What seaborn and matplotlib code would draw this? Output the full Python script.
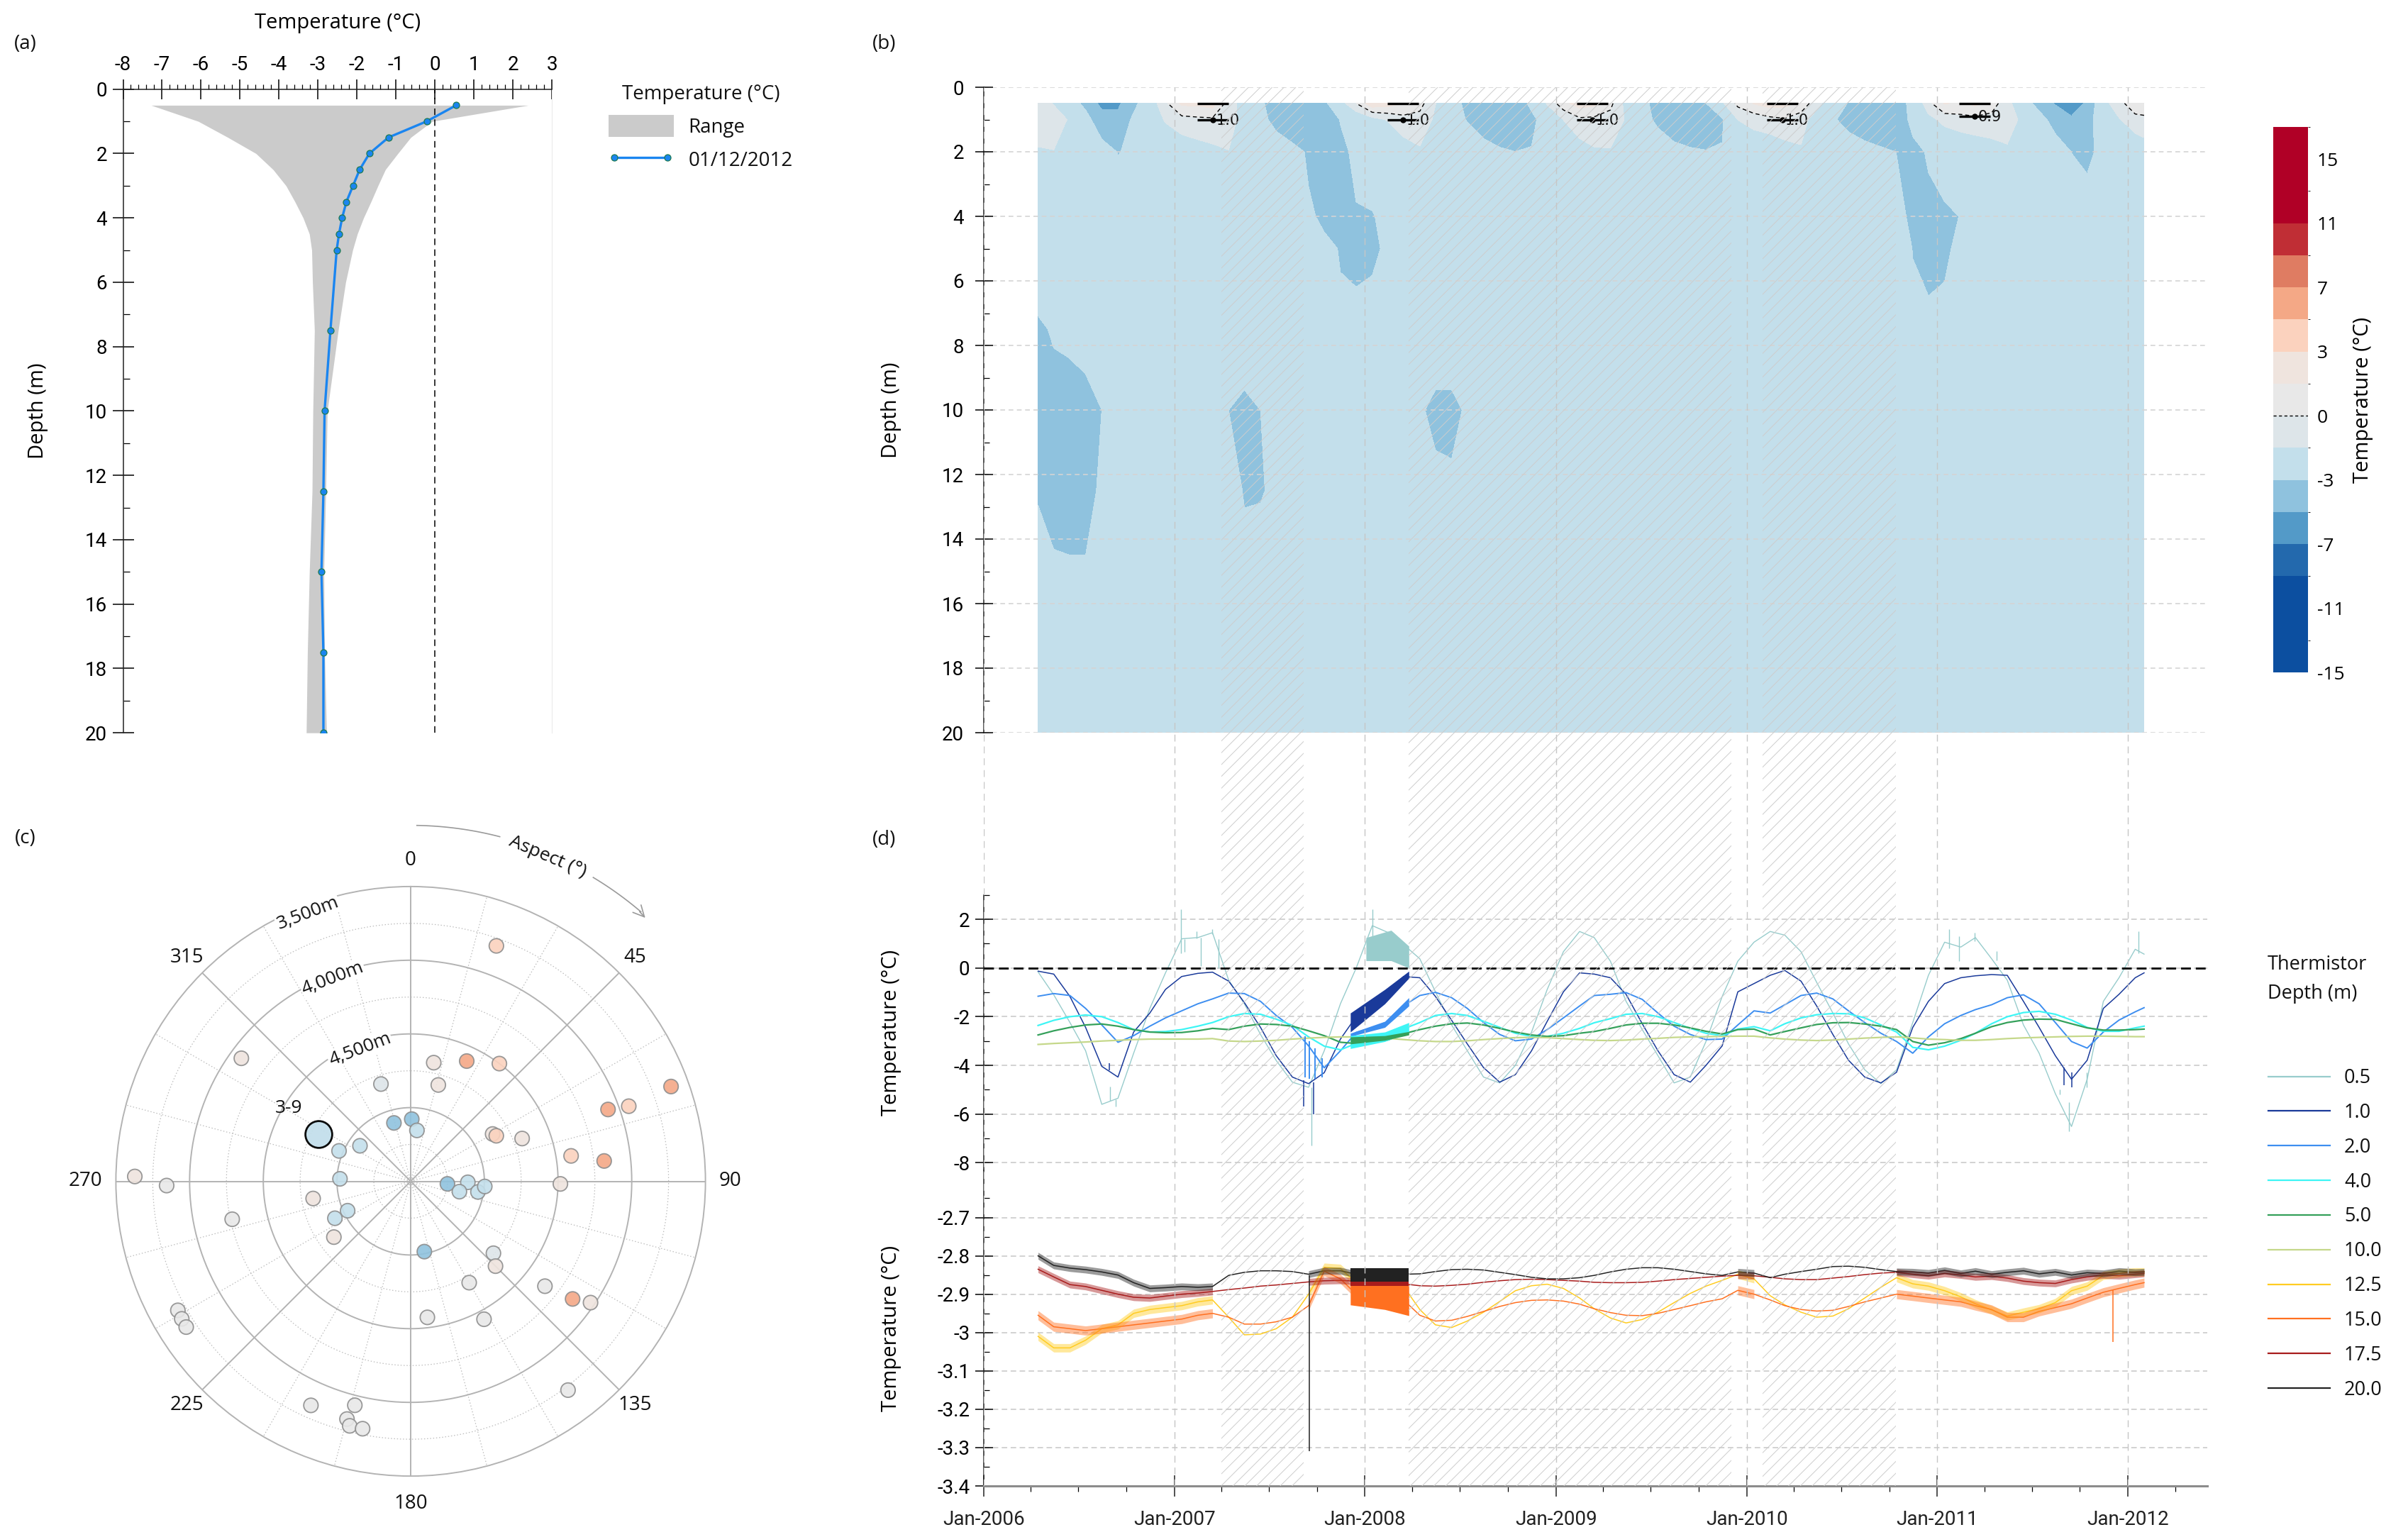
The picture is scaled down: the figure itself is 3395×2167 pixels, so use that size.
import numpy as np
import pandas as pd
import matplotlib
matplotlib.use("Agg")
import matplotlib.pyplot as plt
import matplotlib.dates as mdates
from matplotlib import font_manager
from matplotlib.colors import ListedColormap, BoundaryNorm
from matplotlib.lines import Line2D
from matplotlib.patches import Patch
from matplotlib.ticker import MultipleLocator, FixedLocator, FuncFormatter
import seaborn as sns

# ---------------------------------------------------------------- data
# (a) borehole profile on 01/12/2012 and the observed range at each depth
profile_depth = [0.5, 1.0, 1.5, 2.0, 2.5, 3.0, 3.5, 4.0, 4.5, 5.0, 7.5, 10.0, 12.5, 15.0, 17.5, 20.0]
profile_temp = [0.55, -0.21, -1.19, -1.68, -1.93, -2.10, -2.27, -2.38, -2.46, -2.52, -2.68, -2.83, -2.86, -2.91, -2.86, -2.86]
range_depth = [0.5, 1.0, 1.5, 2.0, 2.5, 3.0, 3.5, 4.0, 4.5, 5.0, 6.0, 7.5, 10.0, 12.5, 15.0, 17.5, 20.0]
range_min = [-7.28, -6.07, -5.31, -4.59, -4.15, -3.82, -3.59, -3.38, -3.22, -3.16, -3.14, -3.09, -3.13, -3.15, -3.22, -3.27, -3.30]
range_max = [2.40, -0.07, -0.62, -0.95, -1.27, -1.46, -1.64, -1.83, -1.99, -2.11, -2.29, -2.48, -2.76, -2.80, -2.85, -2.83, -2.78]

# (c) rock-glacier sites: aspect (deg), elevation (m), mean temperature class (degC)
site_aspect = [20, 306, 11, 25, 37, 16, 343, 70, 70, 71, 344, 1, 7, 60, 62, 69, 81, 84,
               293, 305, 272, 271, 269, 260, 258, 245, 244, 234, 94, 91, 102, 99, 94, 91,
               169, 131, 135, 150, 128, 126, 124, 173, 152, 241, 239, 237, 143, 204, 194, 195, 194, 191]
site_elev = [3800, 4080, 4680, 4600, 4500, 4820, 4810, 3620, 4075, 3935, 5088, 5078, 5152, 4858, 4842, 4690, 4398, 4180,
             4972, 5080, 5020, 3628, 3844, 4828, 4262, 5028, 4928, 4856, 5250, 5112, 5162, 5038, 4996, 4484,
             5014, 4756, 4686, 4706, 4344, 4142, 4028, 4570, 4440, 3694, 3688, 3684, 3726, 3836, 3934, 3830, 3790, 3790]
site_temp = [4, 2, 2, 6, 4, 2, -0.5, 6, 6, 4, -4, -4, -2, 2, 4, 2, 4, 6,
             -2, -2, -2, 2, 0.5, 2, 0.5, -2, -2, 2, -4, -2, -2, -2, -2, 2,
             -4, -0.5, 2, 0.5, 0.5, 6, 2, 0.5, 0.5, 0.5, 0.5, 0.5, 0.5, 0.5, 0.5, 0.5, 0.5, 0.5]
borehole_site = {"aspect": 297, "elev": 4798, "temp": -2, "name": "3-9"}

# (b)/(d) thermistor string: monthly readings (mid-month, Apr 2006 - Jan 2012, plus 1 Feb 2012)
plotted_depths = [0.5, 1.0, 2.0, 4.0, 5.0, 10.0, 12.5, 15.0, 17.5, 20.0]
temp_05 = [-0.16, -1.10, -2.24, -3.40, -5.60, -5.35, -3.50, -1.66, -0.20, 1.20, 1.25, 1.45,
           -0.50, -1.47, -2.73, -3.80, -4.69, -4.90, -3.40, -1.47, -0.01, 1.74, 1.45, 0.96,
           0.38, -0.98, -2.34, -3.40, -4.48, -4.72, -4.00, -2.63, -0.88, 0.67, 1.50, 1.25,
           0.28, -1.37, -2.53, -3.60, -4.72, -4.48, -3.02, -1.17, 0.28, 1.06, 1.50, 1.35,
           0.67, -0.59, -1.85, -3.12, -4.18, -4.75, -4.18, -2.24, -0.30, 1.06, 0.86, 1.25,
           0.38, -0.50, -2.34, -3.50, -5.16, -6.51, -4.57, -1.37, -0.40, 0.77, 0.57]
temp_10 = [-0.13, -0.25, -1.17, -2.44, -4.04, -4.48, -2.63, -1.85, -0.88, -0.35, -0.22, -0.17,
           -0.54, -1.42, -2.44, -3.60, -4.48, -4.75, -4.30, -2.92, -2.00, -1.40, -0.90, -0.35,
           -0.40, -1.17, -2.15, -3.12, -4.09, -4.69, -4.38, -3.40, -2.19, -0.98, -0.20, -0.25,
           -0.40, -1.08, -2.29, -3.40, -4.38, -4.69, -4.00, -3.20, -0.98, -0.64, -0.30, -0.10,
           -0.54, -1.56, -2.73, -3.79, -4.48, -4.72, -4.28, -2.44, -1.37, -0.64, -0.40, -0.32,
           -0.27, -0.30, -1.37, -2.44, -3.60, -4.57, -3.79, -1.66, -1.08, -0.40, -0.20]
temp_20 = [-1.16, -1.05, -1.13, -1.66, -2.34, -3.05, -2.78, -2.39, -2.05, -1.76, -1.47, -1.27,
           -1.03, -1.05, -1.37, -1.95, -2.44, -3.20, -4.10, -3.40, -2.65, -2.45, -2.20, -1.55,
           -1.13, -1.00, -1.22, -1.66, -2.24, -2.73, -2.99, -2.92, -2.53, -2.05, -1.56, -1.13,
           -1.08, -1.01, -1.29, -1.85, -2.39, -2.73, -2.94, -2.92, -2.34, -1.76, -1.85, -1.51,
           -1.13, -1.03, -1.27, -1.76, -2.24, -2.68, -3.02, -3.50, -2.83, -2.29, -1.95, -1.71,
           -1.51, -1.22, -1.10, -1.47, -2.24, -3.02, -3.29, -2.63, -2.14, -1.80, -1.63]
temp_40 = [-2.36, -2.15, -2.00, -1.93, -2.00, -2.24, -2.53, -2.63, -2.61, -2.53, -2.39, -2.24,
           -2.00, -1.87, -1.90, -2.10, -2.36, -2.83, -3.21, -3.36, -3.10, -3.05, -2.75, -2.50,
           -2.24, -1.95, -1.87, -1.95, -2.19, -2.44, -2.68, -2.81, -2.81, -2.68, -2.48, -2.25,
           -2.08, -1.90, -1.87, -2.00, -2.24, -2.48, -2.68, -2.78, -2.51, -2.41, -2.58, -2.29,
           -2.05, -1.92, -1.87, -1.88, -2.05, -2.34, -2.63, -3.26, -3.36, -3.21, -2.97, -2.68,
           -2.29, -2.00, -1.83, -1.78, -1.90, -2.14, -2.44, -2.60, -2.60, -2.46, -2.39]
temp_50 = [-2.75, -2.58, -2.44, -2.34, -2.30, -2.39, -2.53, -2.63, -2.66, -2.65, -2.58, -2.48,
           -2.53, -2.39, -2.30, -2.32, -2.39, -2.58, -2.78, -3.05, -3.10, -3.05, -2.95, -2.70,
           -2.53, -2.39, -2.29, -2.26, -2.34, -2.48, -2.63, -2.75, -2.81, -2.78, -2.68, -2.61,
           -2.48, -2.34, -2.27, -2.27, -2.34, -2.46, -2.60, -2.71, -2.53, -2.51, -2.75, -2.61,
           -2.46, -2.32, -2.25, -2.24, -2.30, -2.39, -2.53, -3.02, -3.17, -3.07, -2.90, -2.68,
           -2.41, -2.24, -2.14, -2.10, -2.11, -2.29, -2.46, -2.55, -2.55, -2.53, -2.51]
# 7.5 m sensor: used in the depth-time section only
temp_75 = [-3.05, -2.97, -2.96, -2.95, -2.94, -2.93, -2.92, -2.91, -2.90, -2.90, -2.90, -2.90,
           -2.92, -2.94, -2.94, -2.93, -2.91, -2.89, -2.88, -2.88, -2.89, -2.90, -2.91, -2.92,
           -2.93, -2.94, -2.94, -2.93, -2.91, -2.89, -2.87, -2.86, -2.86, -2.87, -2.89, -2.91,
           -2.92, -2.92, -2.91, -2.89, -2.87, -2.85, -2.84, -2.84, -2.85, -2.86, -2.88, -2.90,
           -2.92, -2.93, -2.92, -2.90, -2.88, -2.86, -2.85, -2.86, -2.88, -2.90, -2.91, -2.91,
           -2.90, -2.88, -2.86, -2.84, -2.83, -2.83, -2.84, -2.85, -2.86, -2.86, -2.86]
temp_100 = [-3.14, -3.10, -3.07, -3.04, -3.00, -2.97, -2.94, -2.92, -2.92, -2.92, -2.92, -2.90,
            -3.00, -3.02, -3.00, -2.97, -2.92, -2.88, -2.85, -2.83, -2.83, -2.85, -2.89, -2.94,
            -2.99, -3.02, -3.02, -2.99, -2.94, -2.90, -2.86, -2.85, -2.86, -2.90, -2.94, -2.97,
            -2.98, -2.96, -2.92, -2.89, -2.85, -2.83, -2.82, -2.81, -2.80, -2.80, -2.87, -2.92,
            -2.96, -2.98, -2.96, -2.92, -2.88, -2.85, -2.83, -2.87, -2.92, -2.94, -2.97, -2.97,
            -2.94, -2.90, -2.87, -2.85, -2.83, -2.81, -2.80, -2.80, -2.81, -2.82, -2.82]
temp_125 = [-3.010, -3.040, -3.040, -3.020, -2.990, -2.980, -2.950, -2.940, -2.935, -2.930, -2.920, -2.915,
            -2.960, -3.006, -3.004, -2.990, -2.960, -2.900, -2.830, -2.833, -2.870, -2.870, -2.875, -2.880,
            -2.940, -2.980, -2.987, -2.970, -2.947, -2.919, -2.891, -2.878, -2.874, -2.885, -2.910, -2.938,
            -2.962, -2.975, -2.966, -2.947, -2.922, -2.898, -2.879, -2.864, -2.848, -2.860, -2.904, -2.928,
            -2.947, -2.960, -2.957, -2.938, -2.910, -2.882, -2.857, -2.873, -2.879, -2.891, -2.907, -2.925,
            -2.941, -2.957, -2.947, -2.938, -2.922, -2.891, -2.879, -2.851, -2.845, -2.842, -2.842]
temp_150 = [-2.955, -2.985, -2.990, -2.995, -2.990, -2.985, -2.980, -2.975, -2.970, -2.965, -2.955, -2.950,
            -2.960, -2.978, -2.978, -2.972, -2.960, -2.930, -2.840, -2.860, -2.900, -2.905, -2.910, -2.915,
            -2.955, -2.970, -2.968, -2.958, -2.945, -2.932, -2.922, -2.916, -2.915, -2.918, -2.926, -2.938,
            -2.948, -2.955, -2.956, -2.950, -2.940, -2.930, -2.920, -2.912, -2.890, -2.900, -2.915, -2.930,
            -2.940, -2.944, -2.942, -2.932, -2.920, -2.910, -2.900, -2.905, -2.910, -2.915, -2.920, -2.930,
            -2.940, -2.960, -2.960, -2.945, -2.935, -2.925, -2.910, -2.895, -2.885, -2.875, -2.870]
temp_175 = [-2.835, -2.855, -2.875, -2.880, -2.890, -2.900, -2.908, -2.910, -2.905, -2.900, -2.897, -2.893,
            -2.888, -2.884, -2.879, -2.876, -2.872, -2.868, -2.865, -2.864, -2.866, -2.868, -2.870, -2.873,
            -2.878, -2.879, -2.877, -2.874, -2.869, -2.865, -2.862, -2.861, -2.862, -2.864, -2.866, -2.869,
            -2.870, -2.870, -2.869, -2.866, -2.862, -2.859, -2.856, -2.853, -2.851, -2.852, -2.856, -2.860,
            -2.862, -2.862, -2.858, -2.854, -2.849, -2.845, -2.843, -2.848, -2.852, -2.846, -2.850, -2.855,
            -2.853, -2.858, -2.866, -2.870, -2.872, -2.862, -2.855, -2.850, -2.852, -2.848, -2.846]
temp_200 = [-2.800, -2.825, -2.832, -2.836, -2.842, -2.850, -2.870, -2.885, -2.883, -2.880, -2.882, -2.880,
            -2.851, -2.843, -2.839, -2.839, -2.841, -2.848, -2.839, -2.839, -2.848, -2.848, -2.848, -2.848,
            -2.847, -2.841, -2.836, -2.835, -2.837, -2.843, -2.849, -2.856, -2.860, -2.860, -2.857, -2.851,
            -2.842, -2.835, -2.831, -2.831, -2.835, -2.841, -2.847, -2.851, -2.842, -2.845, -2.857, -2.848,
            -2.841, -2.835, -2.828, -2.827, -2.830, -2.836, -2.841, -2.842, -2.845, -2.838, -2.846, -2.840,
            -2.848, -2.843, -2.839, -2.847, -2.842, -2.850, -2.844, -2.846, -2.840, -2.843, -2.842]

# short single-reading excursions: depth, date, level before, extreme value
spike_depth = [20.0, 15.0,
               0.5, 0.5, 0.5, 0.5, 0.5, 0.5, 0.5, 0.5, 0.5, 0.5, 0.5, 0.5, 0.5, 0.5, 0.5, 0.5, 0.5, 0.5,
               1.0, 1.0, 1.0, 1.0, 1.0,
               2.0, 2.0, 2.0, 2.0]
spike_date = ["2007-09-17", "2011-12-03",
              "2007-09-20", "2007-01-14", "2008-01-16", "2011-09-10", "2011-01-24", "2012-01-21",
              "2007-01-21", "2007-02-13", "2007-02-20", "2007-03-14", "2007-03-27", "2006-08-31",
              "2006-09-11", "2011-02-12", "2011-03-14", "2011-04-24", "2011-08-23", "2011-10-14",
              "2007-09-05", "2007-09-25", "2011-09-15", "2011-09-01", "2006-08-30",
              "2007-09-08", "2007-09-17", "2007-09-27", "2007-10-11"]
spike_from = [-2.850, -2.890,
              -4.90, 0.60, 0.50, -5.50, 0.80, 0.60,
              1.20, 1.22, 1.25, 1.40, 1.20, -5.45,
              -5.40, 1.30, 1.10, 0.70, -5.00, -4.90,
              -4.60, -4.70, -4.30, -4.10, -4.20,
              -2.80, -3.00, -3.30, -3.70]
spike_to = [-3.310, -3.024,
            -7.30, 2.40, 2.40, -6.70, 1.60, 1.50,
            0.67, 1.50, 0.09, 1.60, 0.00, -4.86,
            -5.70, 0.28, 1.45, 0.30, -5.20, -4.30,
            -5.70, -6.00, -4.90, -4.80, -3.90,
            -4.50, -4.55, -4.55, -4.50]

# rapid daily oscillation in the Dec 2007 - Mar 2008 record (envelope low / high)
band_dates = {0.5: ["2008-01-03", "2008-02-20", "2008-03-25"]}
band_default_dates = ["2007-12-04", "2008-02-08", "2008-03-25"]
band_lo = {0.5: [0.30, 0.30, 0.00], 1.0: [-2.63, -1.47, -0.42], 2.0: [-2.81, -2.44, -1.56],
           4.0: [-3.31, -3.02, -2.63], 5.0: [-3.12, -2.97, -2.75], 15.0: [-2.928, -2.940, -2.956],
           17.5: [-2.879, -2.879, -2.879], 20.0: [-2.867, -2.867, -2.867]}
band_hi = {0.5: [1.25, 1.55, 0.90], 1.0: [-1.85, -0.88, -0.13], 2.0: [-2.68, -2.19, -1.22],
           4.0: [-2.78, -2.63, -2.24], 5.0: [-2.83, -2.78, -2.61], 15.0: [-2.873, -2.873, -2.873],
           17.5: [-2.857, -2.857, -2.857], 20.0: [-2.833, -2.833, -2.833]}

# logger records (between these periods the values come from a model) and the
# half-width of the reading-to-reading scatter of the deep sensors
record_start = ["2006-04-15", "2007-09-06", "2009-12-03", "2010-10-14"]
record_end = ["2007-04-01", "2008-03-25", "2010-01-31", "2012-02-01"]
scatter_halfwidth = {12.5: 0.011, 15.0: 0.012, 17.5: 0.009, 20.0: 0.009}
gap_start = ["2007-04-01", "2008-03-25", "2010-01-31"]
gap_end = ["2007-09-06", "2009-12-03", "2010-10-14"]

# maximum thaw depth each summer (m)
thaw_dates = ["2007-03-16", "2008-03-14", "2009-03-12", "2010-03-10", "2011-03-14"]
thaw_depth = [1.0, 1.0, 1.0, 1.0, 0.9]

# temperature classes shared by (b) and (c)
temp_bounds = [-15, -13, -11, -9, -7, -5, -3, -1, 0, 1, 3, 5, 7, 9, 11, 13, 15, 17]
temp_colors = ["#0c4fa0", "#0c4fa0", "#0c4fa0", "#2369ad", "#539ac8", "#8fc2de", "#c3dfeb",
               "#dde5e9", "#e8e8e8", "#efe4de", "#fbd2be", "#f4a886", "#df7c62", "#c02e35",
               "#b00026", "#b00026", "#b00026"]
cbar_ticks = [-15, -11, -7, -3, 0, 3, 7, 11, 15]

series_colors = {0.5: "#98cccc", 1.0: "#1a3a9a", 2.0: "#3d8ef0", 4.0: "#3ef5f5", 5.0: "#34a05a",
                 10.0: "#c5d88a", 12.5: "#ffcc22", 15.0: "#ff7020", 17.5: "#a81c1c", 20.0: "#222222"}
series_widths = {0.5: 1.0, 1.0: 1.1, 2.0: 1.4, 4.0: 1.6, 5.0: 1.6, 10.0: 1.6,
                 12.5: 1.1, 15.0: 1.1, 17.5: 1.1, 20.0: 1.1}

# ---------------------------------------------------------------- style
def pick(names, default="DejaVu Sans"):
    avail = {f.name for f in font_manager.fontManager.ttflist}
    for n in names:
        if n in avail:
            return n
    return default

WIDE = pick(["Open Sans", "Noto Sans", "Lato"])
TICK = pick(["Roboto", "Lato", "Noto Sans"], WIDE)
plt.rcParams["font.family"] = [WIDE, "DejaVu Sans"]
plt.rcParams["axes.unicode_minus"] = False
plt.rcParams["hatch.linewidth"] = 0.7
plt.rcParams["text.color"] = "#111111"
TICK_SIZE = 20

W, H = 3395, 2167
fig = plt.figure(figsize=(W / 100, H / 100), dpi=100)


def box(x0, y0, x1, y1):
    return [x0 / W, 1 - y1 / H, (x1 - x0) / W, (y1 - y0) / H]


cmap = ListedColormap(temp_colors)
norm = BoundaryNorm(temp_bounds, cmap.N)

obs_dates = list(pd.date_range("2006-04-01", periods=70, freq="MS") + pd.Timedelta(days=14))
obs_dates.append(pd.Timestamp("2012-02-01"))
obs_dates = pd.DatetimeIndex(obs_dates)
series = {0.5: temp_05, 1.0: temp_10, 2.0: temp_20, 4.0: temp_40, 5.0: temp_50,
          10.0: temp_100, 12.5: temp_125, 15.0: temp_150, 17.5: temp_175, 20.0: temp_200}
section = dict(series)
section[7.5] = temp_75
for d, v in section.items():
    assert len(v) == len(obs_dates), (d, len(v))
assert len(spike_depth) == len(spike_date) == len(spike_from) == len(spike_to)

long = pd.DataFrame({
    "date": np.tile(obs_dates.values, len(series)),
    "depth": np.repeat(list(series.keys()), len(obs_dates)),
    "temp": np.concatenate([series[d] for d in series]),
})

x_left, x_right = pd.Timestamp("2006-01-01"), pd.Timestamp("2012-06-01")
xlim = mdates.date2num([x_left, x_right])

# ---------------------------------------------------------------- (a)
ax_a = fig.add_axes(box(173.5, 125.7, 778, 1033.2))
ax_a.fill_betweenx(range_depth, range_min, range_max, color="#cbcbcb", lw=0, zorder=1)
ax_a.axvline(0, color="k", lw=1.1, dashes=(6, 4), zorder=2)
blue = "#1a85f0"
sns.lineplot(x=profile_temp, y=profile_depth, orient="y", sort=False, estimator=None,
             color=blue, lw=2.4, marker="o", markersize=6.5, markerfacecolor=blue,
             markeredgecolor="#1e7a50", markeredgewidth=0.9, ax=ax_a, zorder=3)
ax_a.set_xlim(-8, 3)
ax_a.set_ylim(20, 0)
ax_a.xaxis.tick_top()
ax_a.xaxis.set_label_position("top")
ax_a.set_xticks(range(-8, 4))
ax_a.xaxis.set_minor_locator(MultipleLocator(0.2))
ax_a.set_yticks(range(0, 21, 2))
ax_a.yaxis.set_minor_locator(MultipleLocator(1))
ax_a.tick_params(axis="x", which="major", direction="inout", length=20, width=1.1, pad=5,
                 labelsize=TICK_SIZE, labelfontfamily=TICK, top=True, bottom=False)
ax_a.tick_params(axis="x", which="minor", direction="out", length=5, width=0.9, top=True, bottom=False)
ax_a.tick_params(axis="y", which="major", direction="inout", length=22, width=1.1, pad=5,
                 labelsize=TICK_SIZE, labelfontfamily=TICK, left=True)
ax_a.tick_params(axis="y", which="minor", direction="in", length=6.5, width=0.9, left=True)
for s in ["top", "left"]:
    ax_a.spines[s].set_color("#222222")
    ax_a.spines[s].set_linewidth(1.1)
ax_a.spines["bottom"].set_visible(False)
ax_a.spines["right"].set_color("#ececec")
ax_a.set_xlabel("Temperature (°C)", fontsize=21)
ax_a.xaxis.set_label_coords(0.5, 1.103)
ax_a.xaxis.label.set_va("center")
ax_a.set_ylabel("Depth (m)", fontsize=21)
ax_a.yaxis.set_label_coords(-0.198, 0.5)
ax_a.yaxis.label.set_va("center")

fig.legend(
    [Patch(facecolor="#cbcbcb", edgecolor="none"),
     Line2D([0], [0], color=blue, lw=2.4, marker="o", ms=6.5, mfc=blue, mec="#1e7a50", mew=0.9)],
    ["Range", "01/12/2012"], title="Temperature (°C)", loc="upper left",
    bbox_to_anchor=(858 / W, 1 - 119 / H), frameon=False, fontsize=20, title_fontsize=20,
    handlelength=3.3, handleheight=1.35, labelspacing=0.55, handletextpad=0.75,
    borderpad=0, borderaxespad=0, numpoints=2)

# ---------------------------------------------------------------- (b)
ax_b = fig.add_axes(box(1387, 123, 3112, 1033))
sec_depths = sorted(section.keys())
xnum = mdates.date2num(obs_dates)
Z = np.array([section[d] for d in sec_depths])
cf = ax_b.contourf(xnum, sec_depths, Z, levels=temp_bounds, cmap=cmap, norm=norm, zorder=1)
ax_b.contour(xnum, sec_depths, Z, levels=[0], colors="k", linewidths=1.0,
             linestyles=[(0, (4, 3))], zorder=3)
tx = mdates.date2num(pd.to_datetime(thaw_dates))
td = np.array(thaw_depth)
ax_b.errorbar(tx, td, yerr=[td - 0.5, np.zeros_like(td)], fmt="o", color="k", ms=5,
              capsize=16, capthick=2.4, elinewidth=0, zorder=6)
for x, d in zip(tx, td):
    ax_b.annotate(f"{d:.1f}", (x, d), xytext=(3, -1), textcoords="offset points",
                  ha="left", va="center", fontsize=15, family="DejaVu Sans", zorder=7)
ax_b.set_xlim(xlim)
ax_b.set_ylim(20, 0)
ax_b.set_yticks(range(0, 21, 2))
ax_b.yaxis.set_minor_locator(MultipleLocator(1))
ax_b.tick_params(axis="y", which="major", direction="inout", length=18, width=1.1, pad=11,
                 labelsize=TICK_SIZE, labelfontfamily=TICK, left=True)
ax_b.tick_params(axis="y", which="minor", direction="in", length=5.5, width=0.9, left=True)
ax_b.tick_params(axis="x", bottom=False, labelbottom=False)
for s in ["top", "right", "bottom"]:
    ax_b.spines[s].set_visible(False)
ax_b.spines["left"].set_color("#222222")
ax_b.spines["left"].set_linewidth(1.1)
ax_b.set_axisbelow(False)
ax_b.yaxis.grid(True, color="#d4d4d4", lw=1.2, dashes=(4, 3))
ax_b.set_ylabel("Depth (m)", fontsize=21)
ax_b.yaxis.set_label_coords(-0.0759, 0.5)
ax_b.yaxis.label.set_va("center")

cax = fig.add_axes(box(3205, 179, 3254, 948))
cb = fig.colorbar(cf, cax=cax, ticks=cbar_ticks, spacing="uniform")
cb.outline.set_visible(False)
cb.ax.tick_params(length=0, labelsize=19, pad=9)
cb.ax.axhline(0, color="k", lw=1.0, dashes=(3, 2.5))
cb.set_label("Temperature (°C)", fontsize=21)
cb.ax.yaxis.set_label_coords(2.59, 0.5)
cb.ax.yaxis.label.set_va("center")

# ---------------------------------------------------------------- (d)
ax_t = fig.add_axes(box(1387, 1261.8, 3112, 1650))
ax_l = fig.add_axes(box(1387, 1650, 3112, 2095))
top_depths = [0.5, 1.0, 2.0, 4.0, 5.0, 10.0]
low_depths = [12.5, 15.0, 17.5, 20.0]

for ax, depths in [(ax_t, top_depths), (ax_l, low_depths)]:
    sub = long[long["depth"].isin(depths)]
    sns.lineplot(data=sub, x="date", y="temp", hue="depth", size="depth",
                 palette={d: series_colors[d] for d in depths},
                 sizes={d: series_widths[d] for d in depths},
                 estimator=None, legend=False, ax=ax)
    for d in depths:
        if d in band_lo:
            bd = pd.to_datetime(band_dates.get(d, band_default_dates))
            ax.fill_between(bd, band_lo[d], band_hi[d], color=series_colors[d], lw=0, zorder=2.5)
        if d in scatter_halfwidth:
            vals = np.array(series[d])
            hw = scatter_halfwidth[d]
            for s, e in zip(record_start, record_end):
                m = (obs_dates >= pd.Timestamp(s)) & (obs_dates <= pd.Timestamp(e))
                ax.fill_between(obs_dates[m], vals[m] - hw, vals[m] + hw,
                                color=series_colors[d], alpha=0.45, lw=0, zorder=2.2)
    for d, dt, a, b in zip(spike_depth, spike_date, spike_from, spike_to):
        if d in depths:
            ax.vlines(pd.Timestamp(dt), a, b, color=series_colors[d], lw=series_widths[d], zorder=2.4)
    ax.set_xlim(xlim)
    ax.set_xlabel("")
    ax.set_ylabel("Temperature (°C)", fontsize=21)
    ax.yaxis.set_label_coords(-0.0759, 0.5)
    ax.yaxis.label.set_va("center")
    ax.set_axisbelow(True)
    ax.yaxis.grid(True, color="#d2d2d2", lw=1.4, dashes=(4, 2.5))
    ax.xaxis.grid(False)
    ax.spines["left"].set_color("#222222")
    ax.spines["left"].set_linewidth(1.1)
    for s in ["top", "right"]:
        ax.spines[s].set_visible(False)
    ax.tick_params(axis="y", which="major", direction="inout", length=18, width=1.1, pad=5,
                   labelsize=TICK_SIZE, labelfontfamily=TICK, left=True)
    ax.tick_params(axis="y", which="minor", direction="in", length=5.5, width=0.9, left=True)
    ax.patch.set_alpha(0)

ax_t.axhline(0, color="k", lw=2.0, dashes=(5, 2.5), zorder=4)
ax_t.set_ylim(-8.31, 3)
ax_t.yaxis.set_major_locator(FixedLocator([-8, -6, -4, -2, 0, 2]))
ax_t.yaxis.set_minor_locator(FixedLocator([-7, -5, -3, -1, 1, 3]))
ax_t.spines["bottom"].set_visible(False)
ax_t.tick_params(axis="x", which="both", bottom=False, labelbottom=False)

ax_l.set_ylim(-3.4, -2.577)
ax_l.yaxis.set_major_locator(FixedLocator(np.round(np.arange(-3.4, -2.69, 0.1), 2)))
ax_l.yaxis.set_minor_locator(FixedLocator(np.round(np.arange(-3.35, -2.64, 0.1), 2)))
ax_l.yaxis.set_major_formatter(FuncFormatter(lambda v, p: f"{round(v, 1):g}"))
ax_l.spines["bottom"].set_color("#8c8c8c")
ax_l.spines["bottom"].set_linewidth(2.2)
ax_l.xaxis.set_major_locator(mdates.YearLocator())
ax_l.xaxis.set_major_formatter(mdates.DateFormatter("%b-%Y"))
ax_l.xaxis.set_minor_locator(mdates.MonthLocator(bymonth=[1, 4, 7, 10]))
ax_l.tick_params(axis="x", which="major", direction="inout", length=21, width=1.1, pad=14,
                 labelsize=TICK_SIZE, labelfontfamily=TICK, bottom=True, colors="#222222")
ax_l.tick_params(axis="x", which="minor", direction="out", length=6, width=0.9, bottom=True)

fig.text(3197 / W, 1 - 1346 / H, "Thermistor\nDepth (m)", fontsize=19.5, ha="left", va="top",
         linespacing=1.6)
fig.legend([Line2D([0], [0], color=series_colors[d], lw=1.6) for d in plotted_depths],
           [f"{d:.1f}" for d in plotted_depths], loc="upper left",
           bbox_to_anchor=(3198 / W, 1 - 1506 / H), frameon=False, fontsize=19.5,
           handlelength=3.2, labelspacing=0.77, handletextpad=0.75, borderpad=0, borderaxespad=0)

# overlay: year gridlines and hatched model periods spanning (b) and (d)
ax_o = fig.add_axes(box(1387, 123, 3112, 2095))
ax_o.set_xlim(xlim)
ax_o.set_ylim(0, 1)
ax_o.axis("off")
for s, e in zip(gap_start, gap_end):
    ax_o.axvspan(mdates.date2num(pd.Timestamp(s)), mdates.date2num(pd.Timestamp(e)),
                 facecolor="none", edgecolor="#cdcdcd", hatch="//", lw=0)
for yr in range(2006, 2013):
    ax_o.axvline(mdates.date2num(pd.Timestamp(f"{yr}-01-01")), color="#c6c6c6", lw=1.0, dashes=(7, 5))

# ---------------------------------------------------------------- (c)
R = 415.6
ax_c = fig.add_axes(box(579 - R, 1665.5 - R, 579 + R, 1665.5 + R), projection="polar")
ax_c.set_theta_zero_location("N")
ax_c.set_theta_direction(-1)
ax_c.set_ylim(0, 2000)
ax_c.grid(False)
ax_c.set_xticks([])
ax_c.set_yticks([])
ax_c.spines["polar"].set_color("#b3b3b3")
ax_c.spines["polar"].set_linewidth(1.4)
ring = np.linspace(0, 2 * np.pi, 400)
for r in [500, 1000, 1500]:
    ax_c.plot(ring, np.full_like(ring, r), color="#b3b3b3", lw=1.4, zorder=1)
for r in [250, 750, 1250, 1750]:
    ax_c.plot(ring, np.full_like(ring, r), color="#bcbcbc", lw=0.9, ls=(0, (1.2, 2.2)), zorder=1)
for a in range(0, 360, 15):
    th = np.deg2rad(a)
    if a % 45 == 0:
        ax_c.plot([th, th], [0, 2000], color="#b3b3b3", lw=1.4, zorder=1)
    else:
        ax_c.plot([th, th], [0, 2000], color="#bcbcbc", lw=0.9, ls=(0, (1.2, 2.2)), zorder=1)

sites = pd.DataFrame({"theta": np.deg2rad(site_aspect), "r": 5500 - np.array(site_elev),
                      "temp": site_temp})
pal_sites = {t: cmap(norm(t)) for t in sorted(set(site_temp))}
sns.scatterplot(data=sites, x="theta", y="r", hue="temp", palette=pal_sites, s=215,
                edgecolor="#8e8e8e", linewidth=1.3, alpha=0.9, legend=False, ax=ax_c, zorder=3)
sns.scatterplot(x=[np.deg2rad(borehole_site["aspect"])], y=[5500 - borehole_site["elev"]],
                color=cmap(norm(borehole_site["temp"])), s=740, edgecolor="k", linewidth=2.0,
                alpha=0.95, legend=False, ax=ax_c, zorder=4)
ax_c.set_xlabel("")
ax_c.set_ylabel("")
ax_c.text(np.deg2rad(301), 966, borehole_site["name"], ha="center", va="center", fontsize=19)

for a in range(0, 360, 45):
    th = np.deg2rad(a)
    if a == 0:
        ha, va, rr = "center", "bottom", 1.055
    elif a == 90:
        ha, va, rr = "left", "center", 1.045
    elif a == 180:
        ha, va, rr = "center", "top", 1.06
    elif a == 270:
        ha, va, rr = "right", "center", 1.045
    else:
        ha, va, rr = "center", "center", 1.075
    ax_c.text(th, rr * 2000, str(a), ha=ha, va=va, fontsize=20)

for lab, r in [("3,500m", 1950), ("4,000m", 1474), ("4,500m", 960)]:
    ax_c.text(np.deg2rad(339), r, lab, rotation=21, rotation_mode="anchor", ha="center",
              va="center", fontsize=19, zorder=5,
              bbox=dict(facecolor="white", edgecolor="none", pad=1.0))

arc_a = np.deg2rad(np.linspace(1, 14.5, 40))
ax_c.plot(arc_a, np.full_like(arc_a, 2415), color="#9a9a9a", lw=1.2, clip_on=False)
arc_b = np.deg2rad(np.linspace(31, 40.5, 30))
ax_c.plot(arc_b, np.full_like(arc_b, 2405), color="#9a9a9a", lw=1.2, clip_on=False)
ax_c.annotate("", xy=(np.deg2rad(42.0), 2392), xytext=(np.deg2rad(40.0), 2402),
              arrowprops=dict(arrowstyle="->", color="#9a9a9a", lw=1.2, mutation_scale=28),
              annotation_clip=False)
ax_c.text(np.deg2rad(22.9), 2388, "Aspect (°)", rotation=-23, ha="center", va="center", fontsize=19)

# ---------------------------------------------------------------- panel letters
for txt, x, y in [("(a)", 20, 62), ("(b)", 1230, 62), ("(c)", 21, 1182), ("(d)", 1230, 1184)]:
    fig.text(x / W, 1 - y / H, txt, fontsize=20, ha="left", va="center")

fig.savefig("out.png", dpi=100)
